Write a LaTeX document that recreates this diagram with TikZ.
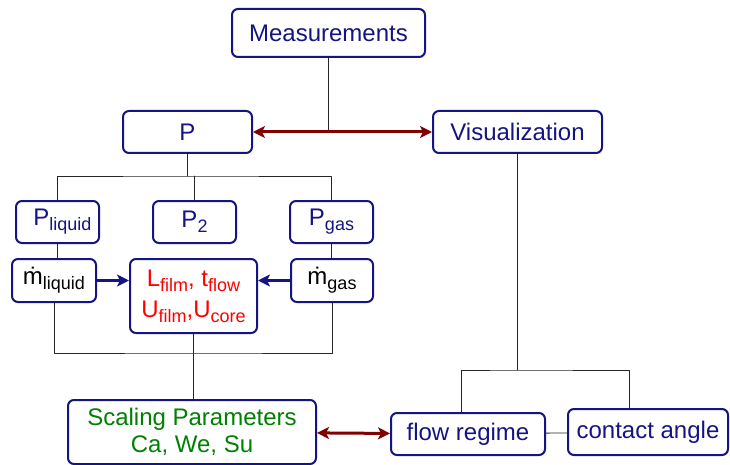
\documentclass[tikz,border=0pt]{standalone}
\usepackage{fontspec}
\setmainfont{Liberation Sans}
\usetikzlibrary{arrows.meta}
\definecolor{boxblue}{RGB}{20,20,130}
\definecolor{linkred}{RGB}{128,0,0}
\definecolor{pargreen}{RGB}{0,128,0}
\newcommand{\lo}[1]{\raisebox{-5pt}{\fontsize{18}{20}\selectfont #1}}
\begin{document}
\begin{tikzpicture}[x=1pt, y=-1pt, font=\fontsize{24}{27}\selectfont, line join=round, line cap=round,
  >={Stealth[length=12pt, width=12pt, inset=3pt]},
  box/.style={draw=boxblue, line width=2pt, rounded corners=6pt, text=boxblue, inner sep=0pt, align=center},
  tree/.style={line width=0.8pt, black!85},
  link/.style={<->, linkred, line width=3pt},
  feed/.style={->, boxblue, line width=2.5pt}]
  \useasboundingbox (0,0) rectangle (730,465);
  % top level
  \node[box, minimum width=193pt, minimum height=48pt] (meas) at (328.5,33) {Measurements};
  \node[box, minimum width=129pt, minimum height=42pt] (p) at (187.5,132) {P};
  \node[box, minimum width=169pt, minimum height=42pt] (vis) at (517.5,132) {Visualization};
  \draw[tree] (meas.south) -- (meas.south |- p.east);
  \draw[link] (p) -- (vis);
  % pressures
  \node[box, minimum width=83pt, minimum height=42pt] (pliq) at (57.5,222) {\hspace{10pt}P\lo{liquid}};
  \node[box, minimum width=83pt, minimum height=42pt] (ptwo) at (194.5,222) {P\lo{2}};
  \node[box, minimum width=83pt, minimum height=42pt] (pgas) at (331.5,222) {P\lo{gas}};
  \coordinate (pfork) at (187.5,176);
  \draw[tree] (p.south) -- (pfork);
  \draw[tree] (pliq.north) |- (pfork) -| (pgas.north);
  \draw[tree] (ptwo.north) -- (ptwo.north |- pfork);
  % mass flows
  \node[box, text=black, minimum width=84pt, minimum height=43pt] (mliq) at (54,280.5) {\.{m}\lo{liquid}};
  \node[box, text=red, minimum width=127pt, minimum height=74pt] (film) at (193.5,296) {L\lo{film}, t\lo{flow}\\[4pt]U\lo{film},U\lo{core}};
  \node[box, text=black, minimum width=82pt, minimum height=43pt] (mgas) at (332,280.5) {\.{m}\lo{gas}};
  \draw[tree] (pliq.south) -- (pliq.south |- mliq.north);
  \draw[tree] (pgas.south) -- (pgas.south |- mgas.north);
  \draw[feed] (mliq.east) -- (mliq.east -| film.west);
  \draw[feed] (mgas.west) -- (mgas.west -| film.east);
  \coordinate (mfork) at (193.5,353);
  \draw[tree] (mliq.south) |- (mfork) -| (mgas.south);
  % bottom row
  \node[box, text=pargreen, minimum width=248pt, minimum height=64pt] (scal) at (192,432) {Scaling Parameters\\Ca, We, Su};
  \node[box, minimum width=154pt, minimum height=42pt] (regime) at (468,434) {flow regime};
  \node[box, minimum width=160pt, minimum height=46pt] (angle) at (648,432) {contact angle};
  \draw[tree] (film.south) -- (film.south |- scal.north);
  \draw[link] (scal) -- (regime);
  \draw[tree] (regime) -- (angle);
  \coordinate (vfork) at (517.5,370);
  \draw[tree] (vis.south) -- (vfork);
  \draw[tree] ([xshift=-7pt]regime.north) |- (vfork) -| ([xshift=-19pt]angle.north);
\end{tikzpicture}
\end{document}
